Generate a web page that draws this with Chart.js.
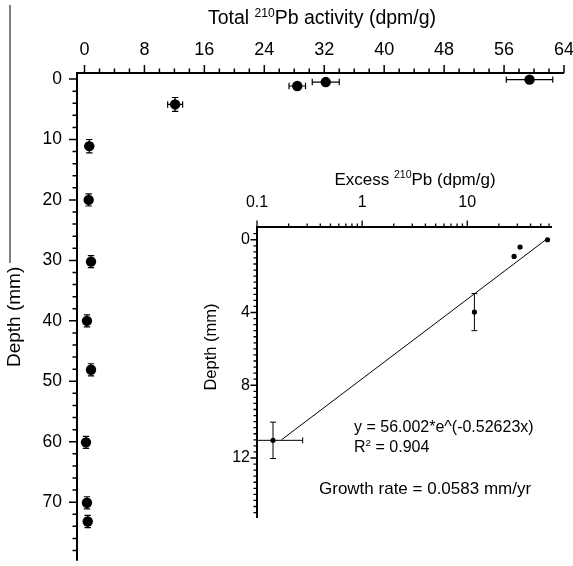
<!DOCTYPE html>
<html><head><meta charset="utf-8">
<script src="https://cdn.jsdelivr.net/npm/chart.js@4.4.1/dist/chart.umd.min.js"></script>
<style>
html,body{margin:0;padding:0;background:#fff;}
#wrap{position:relative;width:573px;height:566px;overflow:hidden;}
#main{position:absolute;left:0;top:0;}
#inset{position:absolute;left:195px;top:160px;}
</style></head><body>
<div id="wrap">
<canvas id="main" width="573" height="566"></canvas>
<canvas id="inset" width="378" height="372"></canvas>
</div>
<script>
const FONT = "'Liberation Sans', Arial, Helvetica, sans-serif";

// ---- main panel: total 210Pb vs depth ----
const totalPb       = [59.4, 32.2, 28.4, 12.1, 0.64, 0.56, 0.87, 0.33, 0.87, 0.20, 0.33, 0.43];
const totalDepth    = [0.1, 0.5, 1.15, 4.2, 11.1, 20.0, 30.2, 40.0, 48.1, 60.1, 70.1, 73.2];
const totalPbErr    = [3.1, 1.8, 1.1, 1.0, 0, 0, 0, 0, 0, 0, 0, 0];
const totalDepthErr = [0, 0, 0, 1.15, 1.1, 1.0, 1.0, 1.0, 1.0, 1.0, 1.0, 1.0];
const totalXTicks   = [0, 8, 16, 24, 32, 40, 48, 56, 64];
const totalYTicks   = [0, 10, 20, 30, 40, 50, 60, 70];

// ---- inset: excess 210Pb vs depth ----
const excessPb       = [58, 31.8, 27.9, 11.7, 0.142];
const excessDepth    = [0, 0.4, 0.92, 3.98, 11.03];
const excessPbLow    = [58, 31.8, 27.9, 11.7, 0.012];
const excessPbHigh   = [58, 31.8, 27.9, 11.7, 0.272];
const excessDepthErr = [0, 0, 0, 1.02, 1.0];
const fitPb          = [0.171, 56];
const fitDepth       = [11, 0];
const excessXTicks   = [0.1, 1, 10];
const excessYTicks   = [0, 4, 8, 12];

function range(a, b, s) { const r = []; for (let v = a; v <= b + 1e-9; v += s) r.push(+v.toFixed(4)); return r; }
const logMinor = [0.2,0.3,0.4,0.5,0.6,0.7,0.8,0.9,2,3,4,5,6,7,8,9,20,30,40,50,60];

function noPad(s) { s.paddingLeft = 0; s.paddingRight = 0; s.paddingTop = 0; s.paddingBottom = 0; }
const noGrid = { display: false, drawTicks: false };

const axisTicks = {
  id: 'axisTicks',
  afterDraw(chart, args, o) {
    const ctx = chart.ctx, ca = chart.chartArea, xs = chart.scales.x, ys = chart.scales.y;
    ctx.save();
    ctx.strokeStyle = '#000';
    ctx.lineWidth = o.axisWidth;
    ctx.beginPath();
    ctx.moveTo(ca.left, ca.bottom);
    ctx.lineTo(ca.left, ca.top);
    ctx.lineTo(ca.right, ca.top);
    ctx.stroke();
    ctx.lineWidth = o.tickWidth;
    ctx.beginPath();
    o.xMajor.forEach(v => { const p = xs.getPixelForValue(v); ctx.moveTo(p, ca.top); ctx.lineTo(p, ca.top - o.majorLen); });
    o.xMinor.forEach(v => { const p = xs.getPixelForValue(v); ctx.moveTo(p, ca.top); ctx.lineTo(p, ca.top - o.minorLen); });
    o.yMajor.forEach(v => { const p = ys.getPixelForValue(v); ctx.moveTo(ca.left, p); ctx.lineTo(ca.left - o.majorLen, p); });
    o.yMinor.forEach(v => { const p = ys.getPixelForValue(v); ctx.moveTo(ca.left, p); ctx.lineTo(ca.left - o.minorLen, p); });
    ctx.stroke();
    if (o.stray) {
      ctx.strokeStyle = '#555'; ctx.lineWidth = 1.5;
      ctx.beginPath(); ctx.moveTo(o.stray[0], o.stray[1]); ctx.lineTo(o.stray[0], o.stray[2]); ctx.stroke();
    }
    ctx.restore();
  }
};

const errorBars = {
  id: 'errorBars',
  beforeDatasetsDraw(chart, args, o) {
    const ctx = chart.ctx, ca = chart.chartArea, xs = chart.scales.x, ys = chart.scales.y;
    ctx.save();
    ctx.beginPath(); ctx.rect(ca.left, ca.top, ca.right - ca.left, ca.bottom - ca.top); ctx.clip();
    ctx.strokeStyle = '#000'; ctx.lineWidth = o.width;
    ctx.beginPath();
    o.x.forEach((xv, i) => {
      const px = xs.getPixelForValue(xv), py = ys.getPixelForValue(o.y[i]);
      if (o.xlo[i] !== o.xhi[i]) {
        const a = xs.getPixelForValue(o.xlo[i]), b = xs.getPixelForValue(o.xhi[i]);
        ctx.moveTo(a, py); ctx.lineTo(b, py);
        ctx.moveTo(a, py - o.cap); ctx.lineTo(a, py + o.cap);
        ctx.moveTo(b, py - o.cap); ctx.lineTo(b, py + o.cap);
      }
      if (o.ylo[i] !== o.yhi[i]) {
        const a = ys.getPixelForValue(o.ylo[i]), b = ys.getPixelForValue(o.yhi[i]);
        ctx.moveTo(px, a); ctx.lineTo(px, b);
        ctx.moveTo(px - o.cap, a); ctx.lineTo(px + o.cap, a);
        ctx.moveTo(px - o.cap, b); ctx.lineTo(px + o.cap, b);
      }
    });
    ctx.stroke();
    ctx.restore();
  }
};

function drawRich(ctx, parts, x, cy, size, align, rotate) {
  ctx.save();
  ctx.fillStyle = '#000';
  ctx.textBaseline = 'alphabetic';
  ctx.textAlign = 'left';
  const w = parts.map(p => { ctx.font = (p.sup ? size * 0.62 : size) + 'px ' + FONT; return ctx.measureText(p.t).width; });
  const total = w.reduce((a, b) => a + b, 0);
  ctx.translate(x, cy);
  if (rotate) ctx.rotate(-Math.PI / 2);
  let sx = align === 'center' ? -total / 2 : 0;
  const base = size * 0.36;
  parts.forEach((p, i) => {
    ctx.font = (p.sup ? size * 0.62 : size) + 'px ' + FONT;
    ctx.fillText(p.t, sx, p.sup ? base - size * 0.38 : base);
    sx += w[i];
  });
  ctx.restore();
}

const mainText = {
  id: 'mainText',
  afterDraw(chart) {
    drawRich(chart.ctx, [{t:'Total '},{t:'210',sup:true},{t:'Pb activity (dpm/g)'}], 322, 17, 19.5, 'center');
  }
};

const insetText = {
  id: 'insetText',
  afterDraw(chart) {
    const ctx = chart.ctx;
    drawRich(ctx, [{t:'Excess '},{t:'210',sup:true},{t:'Pb (dpm/g)'}], 220, 18.5, 17, 'center');
    drawRich(ctx, [{t:'Depth (mm)'}], 15, 187, 16.5, 'center', true);
    drawRich(ctx, [{t:'y = 56.002*e^(-0.52623x)'}], 159, 266.5, 16, 'left');
    drawRich(ctx, [{t:'R'},{t:'2',sup:true},{t:' = 0.904'}], 159, 286, 16, 'left');
    drawRich(ctx, [{t:'Growth rate = 0.0583 mm/yr'}], 124, 327.5, 17, 'left');
  }
};

new Chart(document.getElementById('main'), {
  type: 'scatter',
  data: { datasets: [{
    data: totalPb.map((v, i) => ({ x: v, y: totalDepth[i] })),
    backgroundColor: '#000', borderColor: '#000', pointRadius: 5.2, pointHoverRadius: 5.2, borderWidth: 0
  }] },
  options: {
    responsive: false, animation: false, devicePixelRatio: 1,
    layout: { padding: { left: 0, top: 0, right: 9, bottom: -1 } },
    plugins: {
      legend: { display: false }, tooltip: { enabled: false },
      axisTicks: { axisWidth: 2, tickWidth: 1.5, majorLen: 8, minorLen: 4.5,
        xMajor: totalXTicks, xMinor: range(0, 64, 2), yMajor: totalYTicks, yMinor: range(0, 78, 2),
        stray: [10, 5, 263] },
      errorBars: { width: 1.2, cap: 3.2,
        x: totalPb, y: totalDepth,
        xlo: totalPb.map((v, i) => v - totalPbErr[i]), xhi: totalPb.map((v, i) => v + totalPbErr[i]),
        ylo: totalDepth.map((v, i) => v - totalDepthErr[i]), yhi: totalDepth.map((v, i) => v + totalDepthErr[i]) }
    },
    scales: {
      x: { type: 'linear', position: 'top', min: -1, max: 64,
        grid: noGrid, border: { display: false },
        afterBuildTicks: s => { s.ticks = totalXTicks.map(v => ({ value: v })); },
        afterFit: s => { s.height = 73; noPad(s); },
        ticks: { color: '#000', font: { family: FONT, size: 18 }, padding: 12, maxRotation: 0, autoSkip: false }
      },
      y: { type: 'linear', reverse: true, min: -1, max: 79.7,
        grid: noGrid, border: { display: false },
        afterBuildTicks: s => { s.ticks = totalYTicks.map(v => ({ value: v })); },
        afterFit: s => { s.width = 77; noPad(s); },
        ticks: { color: '#000', font: { family: FONT, size: 17.5 }, padding: 15, autoSkip: false },
        title: { display: true, text: 'Depth (mm)', color: '#000', font: { family: FONT, size: 19 }, padding: { top: 3, bottom: 0 } }
      }
    }
  },
  plugins: [axisTicks, errorBars, mainText]
});

new Chart(document.getElementById('inset'), {
  type: 'scatter',
  data: { datasets: [
    { data: excessPb.map((v, i) => ({ x: v, y: excessDepth[i] })),
      backgroundColor: '#000', borderColor: '#000', pointRadius: 2.6, pointHoverRadius: 2.6, borderWidth: 0 },
    { type: 'line', data: fitPb.map((v, i) => ({ x: v, y: fitDepth[i] })),
      borderColor: '#000', borderWidth: 1, pointRadius: 0, fill: false, tension: 0 }
  ] },
  options: {
    responsive: false, animation: false, devicePixelRatio: 1,
    layout: { padding: { left: 0, top: 0, right: 21, bottom: 14 } },
    plugins: {
      legend: { display: false }, tooltip: { enabled: false },
      axisTicks: { axisWidth: 2, tickWidth: 1.3, majorLen: 6.5, minorLen: 3.5,
        xMajor: excessXTicks, xMinor: logMinor, yMajor: excessYTicks, yMinor: range(-1/3, 15.3, 1/3) },
      errorBars: { width: 1, cap: 3,
        x: excessPb, y: excessDepth, xlo: excessPbLow, xhi: excessPbHigh,
        ylo: excessDepth.map((v, i) => v - excessDepthErr[i]), yhi: excessDepth.map((v, i) => v + excessDepthErr[i]) }
    },
    scales: {
      x: { type: 'logarithmic', position: 'top', min: 0.1, max: 64,
        grid: noGrid, border: { display: false },
        afterBuildTicks: s => { s.ticks = excessXTicks.map(v => ({ value: v })); },
        afterFit: s => { s.height = 67; noPad(s); },
        ticks: { color: '#000', font: { family: FONT, size: 16 }, padding: 15, maxRotation: 0, autoSkip: false,
          callback: v => String(v) }
      },
      y: { type: 'linear', reverse: true, min: -0.7, max: 15.3,
        grid: noGrid, border: { display: false },
        afterBuildTicks: s => { s.ticks = excessYTicks.map(v => ({ value: v })); },
        afterFit: s => { s.width = 62; noPad(s); },
        ticks: { color: '#000', font: { family: FONT, size: 16 }, padding: 7, autoSkip: false }
      }
    }
  },
  plugins: [axisTicks, errorBars, insetText]
});
</script>
</body></html>
